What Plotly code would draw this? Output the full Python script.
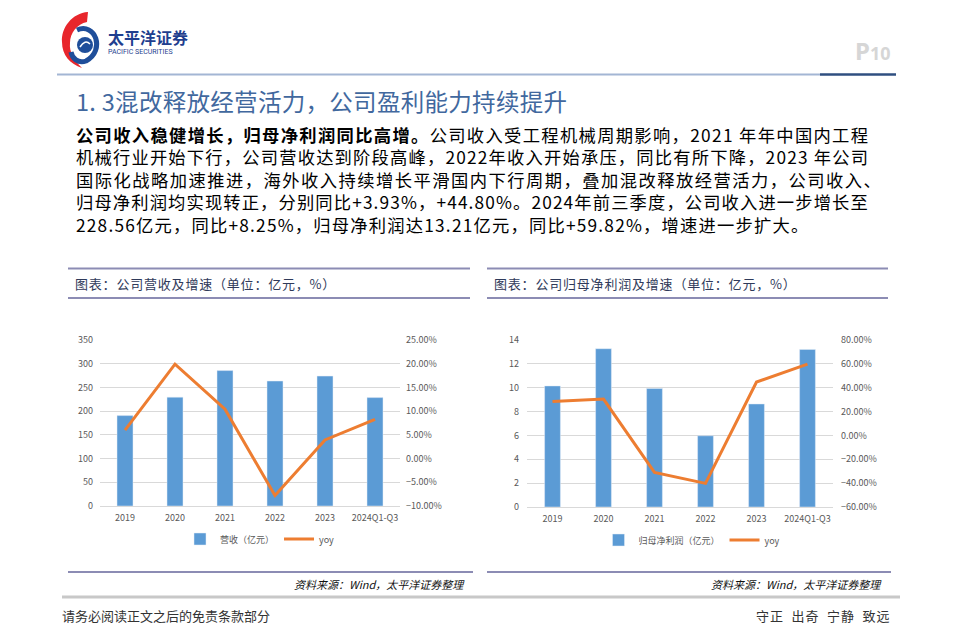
import plotly.graph_objects as go

W, H = 960, 643

# ---------------- data ----------------
years = ["2019", "2020", "2021", "2022", "2023", "2024Q1-Q3"]
revenue = [190.6, 229.5, 285.5, 263.5, 273.9, 228.56]          # 营收（亿元）
revenue_yoy = [6.0, 19.9, 10.4, -7.8, 3.93, 8.25]               # %
net_profit = [10.15, 13.27, 9.93, 5.97, 8.64, 13.21]            # 归母净利润（亿元）
net_profit_yoy = [28.4, 30.5, -31.0, -40.2, 44.80, 59.82]       # %

rev_left_ticks = [0, 50, 100, 150, 200, 250, 300, 350]
rev_right_ticks = [-10, -5, 0, 5, 10, 15, 20, 25]
np_left_ticks = [0, 2, 4, 6, 8, 10, 12, 14]
np_right_ticks = [-60, -40, -20, 0, 20, 40, 60, 80]

title_text = "1. 3混改释放经营活力，公司盈利能力持续提升"
para_lines = [
    "<b>公司收入稳健增长，归母净利润同比高增。</b>公司收入受工程机械周期影响，2021 年年中国内工程",
    "机械行业开始下行，公司营收达到阶段高峰，2022年收入开始承压，同比有所下降，2023 年公司",
    "国际化战略加速推进，海外收入持续增长平滑国内下行周期，叠加混改释放经营活力，公司收入、",
    "归母净利润均实现转正，分别同比+3.93%，+44.80%。2024年前三季度，公司收入进一步增长至",
    "228.56亿元，同比+8.25%，归母净利润达13.21亿元，同比+59.82%，增速进一步扩大。",
]
chart1_title = "图表：公司营收及增速（单位：亿元，%）"
chart2_title = "图表：公司归母净利润及增速（单位：亿元，%）"
source_text = "资料来源：Wind，太平洋证券整理"
footer_left = "请务必阅读正文之后的免责条款部分"
footer_right = "守正\u2002出奇\u2002宁静\u2002致远"

# ---------------- helpers ----------------
def X(px):
    return px / W

def Y(py):
    return 1 - py / H

def P(points):
    return " ".join(points)

FONT = "Noto Sans CJK SC, Noto Sans, sans-serif"
BAR_C = "#5B9BD5"
LINE_C = "#ED7D31"
TICK_C = "#595959"
GRID_C = "#D9D9D9"

fig = go.Figure()

# chart 1
fig.add_trace(go.Bar(x=years, y=revenue, name="营收（亿元）", marker_color=BAR_C,
                     width=0.32, xaxis="x", yaxis="y", legend="legend"))
fig.add_trace(go.Scatter(x=years, y=[v / 100 for v in revenue_yoy], name="yoy", mode="lines",
                         line=dict(color=LINE_C, width=3), xaxis="x", yaxis="y2", legend="legend"))
# chart 2
fig.add_trace(go.Bar(x=years, y=net_profit, name="归母净利润（亿元）", marker_color=BAR_C,
                     width=0.31, xaxis="x3", yaxis="y3", legend="legend2"))
fig.add_trace(go.Scatter(x=years, y=[v / 100 for v in net_profit_yoy], name="yoy", mode="lines",
                         line=dict(color=LINE_C, width=3), xaxis="x3", yaxis="y4", legend="legend2"))

tickfont = dict(family=FONT, size=9, color=TICK_C)

def xax(domain, anchor):
    return dict(domain=domain, anchor=anchor, type="category", showgrid=False,
                showline=True, linecolor=GRID_C, linewidth=1, ticks="",
                tickfont=tickfont, fixedrange=True, automargin=False,
                ticklabelstandoff=3)

def ylax(domain, anchor, rng, ticks, so):
    return dict(domain=domain, anchor=anchor, range=rng, tickvals=ticks,
                showgrid=True, gridcolor=GRID_C, gridwidth=1, zeroline=False,
                showline=False, ticks="", tickfont=tickfont, fixedrange=True,
                automargin=False, ticklabelstandoff=so)

def yrax(overlay, anchor, rng, ticks, so):
    return dict(overlaying=overlay, anchor=anchor, side="right", range=rng,
                tickvals=ticks, tickformat=".2%", showgrid=False, zeroline=False,
                showline=False, ticks="", tickfont=tickfont, fixedrange=True,
                automargin=False, ticklabelstandoff=so)

d1x = [X(100), X(400)]
d1y = [Y(506), Y(340)]
d2x = [X(527), X(833)]
d2y = [Y(507), Y(340)]

fig.update_layout(
    width=W, height=H,
    margin=dict(l=0, r=0, t=0, b=0, pad=0, autoexpand=False),
    paper_bgcolor="white", plot_bgcolor="rgba(0,0,0,0)",
    font=dict(family=FONT),
    xaxis=xax(d1x, "y"),
    yaxis=ylax(d1y, "x", [0, 350], rev_left_ticks, 6),
    yaxis2=yrax("y", "x", [-0.10, 0.25], [v / 100 for v in rev_right_ticks], 5),
    xaxis3=xax(d2x, "y3"),
    yaxis3=ylax(d2y, "x3", [0, 14], np_left_ticks, 7),
    yaxis4=yrax("y3", "x3", [-0.60, 0.80], [v / 100 for v in np_right_ticks], 7),
    legend=dict(orientation="h", x=X(260), xanchor="center", y=Y(539), yanchor="middle",
                font=dict(family=FONT, size=9, color=TICK_C), bgcolor="rgba(0,0,0,0)",
                itemwidth=30, tracegroupgap=0),
    legend2=dict(orientation="h", x=X(692), xanchor="center", y=Y(540), yanchor="middle",
                 font=dict(family=FONT, size=9, color=TICK_C), bgcolor="rgba(0,0,0,0)",
                 itemwidth=30, tracegroupgap=0),
)

shapes = []
annotations = []

def hline(x0, x1, y, color, width):
    shapes.append(dict(type="line", xref="paper", yref="paper", x0=X(x0), x1=X(x1),
                       y0=Y(y), y1=Y(y), line=dict(color=color, width=width)))

def text(x, y, s, size, color="#000000", xanchor="left", family=FONT, yanchor="middle", ls=None):
    if ls is not None:
        s = f"<span style='letter-spacing:{ls}px'>{s}</span>"
    annotations.append(dict(x=X(x), y=Y(y), xref="paper", yref="paper", text=s,
                            showarrow=False, xanchor=xanchor, yanchor=yanchor, align="left",
                            font=dict(size=size, color=color, family=family)))

# ---- header / logo ----
crescent = [f"M{X(88)},{Y(12)}",
            f"C{X(72)},{Y(13)} {X(61)},{Y(28)} {X(62)},{Y(42)}",
            f"C{X(62)},{Y(55)} {X(70)},{Y(64)} {X(82)},{Y(68)}",
            f"C{X(74)},{Y(60)} {X(69)},{Y(52)} {X(70)},{Y(43)}",
            f"C{X(70)},{Y(33)} {X(77)},{Y(24)} {X(87)},{Y(22)} Z"]
shapes.append(dict(type="path", xref="paper", yref="paper", path=P(crescent),
                   fillcolor="#E8262C", line=dict(width=0)))
shapes.append(dict(type="path", xref="paper", yref="paper",
                   path=P([f"M{X(77)},{Y(30)}", f"C{X(95)},{Y(22)} {X(106)},{Y(50)} {X(86)},{Y(61)}",
                           f"C{X(78)},{Y(64)} {X(72)},{Y(58)} {X(71)},{Y(52)}"]),
                   line=dict(color="#1F4E9A", width=5)))
shapes.append(dict(type="circle", xref="paper", yref="paper", x0=X(77), x1=X(93),
                   y0=Y(53), y1=Y(37), fillcolor="#1F4E9A", line=dict(width=0)))
shapes.append(dict(type="path", xref="paper", yref="paper",
                   path=P([f"M{X(80)},{Y(47)}", f"Q{X(85)},{Y(39)} {X(90)},{Y(44)}"]),
                   line=dict(color="white", width=1.5)))
text(106, 37, "<b>太平洋证券</b>", 16, "#1F3F8F")
text(106, 51.5, "PACIFIC SECURITIES", 7, "#1F3F8F", family="Roboto, Noto Sans, sans-serif")

hline(57, 820, 74.5, "#A3B6D4", 2)
hline(820, 896, 74.5, "#2F4F80", 2.5)
text(893, 51, "<b>P<span style='font-size:18px'>10</span></b>", 24, "#D6D6D6",
     xanchor="right", family="Noto Sans, sans-serif")

# ---- title & paragraph (one multi-line text block) ----
text(74, 101, title_text, 23.5, "#41689E", ls=0.3)
para_ls = [1.33, 1.19, 1.47, 1.13, 1.21]
para_html = "<br>".join(f"<span style='letter-spacing:{ls}px'>{ln}</span>"
                        for ln, ls in zip(para_lines, para_ls))
text(74, 179, para_html, 17.3, "#000000")

# ---- chart panels ----
for (x0, x1, ttl, src_r) in [(68, 470, chart1_title, 467), (487, 888, chart2_title, 884)]:
    hline(x0, x1, 268.5, "#8C8CB4", 2)
    hline(x0, x1, 298, "#8C8CB4", 2)
    text(x0 + 5, 283, ttl, 13, "#2F3A5A", ls=0.8)
    hline(x0, x1 + 3, 572, "#8C8CB4", 2)
    text(src_r, 584, f"<i>{source_text}</i>", 11, "#111111", xanchor="right")

# ---- footer ----
hline(62, 900, 597, "#C8C8C8", 3)
text(60, 615, footer_left, 13, "#333333")
text(893, 615, footer_right, 13, "#333333", xanchor="right", ls=1)

fig.update_layout(shapes=shapes, annotations=annotations)
fig.write_html("out.html", config={"displayModeBar": False},
               post_script="document.body.style.margin='0px';document.body.style.overflow='hidden';")
